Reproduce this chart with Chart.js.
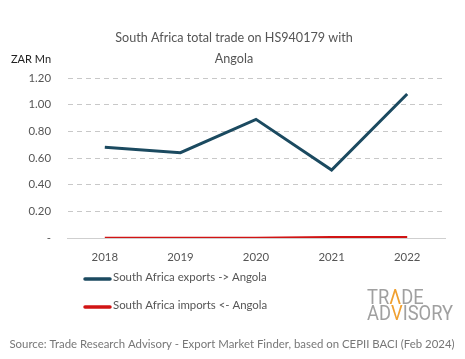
<!DOCTYPE html>
<html><head><meta charset="utf-8">
<script src="https://cdn.jsdelivr.net/npm/chart.js@4"></script>
<style>html,body{margin:0;padding:0;background:#fff}#wrap{width:465px;height:359px;position:relative}</style>
</head><body><div id="wrap"><canvas id="c" width="465" height="359"></canvas></div>
<script>
const years = ['2018','2019','2020','2021','2022'];
const exportsAngola = [0.68, 0.64, 0.89, 0.51, 1.08];
const importsAngola = [0.0, 0.0, 0.0, 0.005, 0.005];
const seriesLabels = ['South Africa exports -> Angola', 'South Africa imports <- Angola'];
const yTicks = [0, 0.2, 0.4, 0.6, 0.8, 1.0, 1.2];
const titleLines = ['South Africa total trade on HS940179 with', 'Angola'];
const unitLabel = 'ZAR Mn';
const sourceText = 'Source: Trade Research Advisory - Export Market Finder, based on CEPII BACI (Feb 2024)';

const FONT = 'Lato, "Open Sans", sans-serif';

const extras = {
  id: 'extras',
  afterDraw(chart) {
    const ctx = chart.ctx;
    ctx.save();
    ctx.textBaseline = 'middle';
    ctx.fillStyle = '#555';
    ctx.font = '12.6px ' + FONT;
    ctx.textAlign = 'center';
    ctx.fillText(titleLines[0], 234, 38);
    ctx.fillText(titleLines[1], 234, 59);
    ctx.textAlign = 'left';
    ctx.fillStyle = '#222';
    ctx.font = '11px ' + FONT;
    ctx.fillText(unitLabel, 11, 59);
    const ys = [279, 307];
    chart.data.datasets.forEach((ds, i) => {
      ctx.strokeStyle = ds.borderColor;
      ctx.lineWidth = 3.5;
      ctx.lineCap = 'round';
      ctx.beginPath(); ctx.moveTo(85, ys[i]); ctx.lineTo(110, ys[i]); ctx.stroke();
      ctx.fillStyle = '#555';
      ctx.font = '11.4px ' + FONT;
      ctx.textAlign = 'left';
      ctx.fillText(ds.label, 113, ys[i] - 2);
    });
    ctx.save();
    ctx.font = '19.5px Roboto, sans-serif';
    ctx.textAlign = 'left';
    ctx.translate(367, 0);
    ctx.scale(0.94, 1);
    const drawParts = (parts, x, y) => {
      parts.forEach(([t, col]) => {
        ctx.fillStyle = col;
        ctx.fillText(t, x, y);
        x += ctx.measureText(t).width;
      });
    };
    drawParts([['TR','#a0a0a0'],['\u039B','#f0a030'],['DE','#a0a0a0']], 0, 299);
    drawParts([['AD','#a0a0a0'],['V','#f0a030'],['ISORY','#a0a0a0']], 0, 315);
    ctx.restore();
    ctx.fillStyle = '#777';
    ctx.font = '11.4px ' + FONT;
    ctx.textAlign = 'center';
    ctx.fillText(sourceText, 232, 344);
    ctx.restore();
  }
};

new Chart(document.getElementById('c'), {
  type: 'line',
  data: {
    labels: years,
    datasets: [
      { label: seriesLabels[0], data: exportsAngola, borderColor: '#1b4a60', backgroundColor: '#1b4a60', borderWidth: 3, pointRadius: 0, tension: 0 },
      { label: seriesLabels[1], data: importsAngola, borderColor: '#d11414', backgroundColor: '#d11414', borderWidth: 2.5, pointRadius: 0, tension: 0 }
    ]
  },
  options: {
    responsive: false,
    animation: false,
    layout: { padding: { left: 0, right: 20, top: 78, bottom: 91 } },
    plugins: { legend: { display: false }, title: { display: false }, tooltip: { enabled: false } },
    scales: {
      x: {
        offset: true,
        grid: { display: false, drawTicks: false },
        border: { display: true, color: '#cfcfcf', width: 1 },
        ticks: { color: '#555', font: { family: FONT, size: 11.4 }, padding: 12 },
        afterFit(s) { s.height = 30; }
      },
      y: {
        min: 0, max: 1.2,
        afterBuildTicks(s) { s.ticks = yTicks.map(v => ({ value: v })); },
        grid: { drawTicks: false, color: c => (c.tick && c.tick.value === 0) ? 'rgba(0,0,0,0)' : '#c8c8c8', lineWidth: 1 },
        border: { display: true, color: 'rgba(0,0,0,0)', dash: [5, 4] },
        ticks: { color: '#555', font: { family: FONT, size: 11.4 }, padding: 16,
          callback: v => v === 0 ? '-' : v.toFixed(2) },
        afterFit(s) { s.width = 67; }
      }
    }
  },
  plugins: [extras]
});
</script></body></html>
